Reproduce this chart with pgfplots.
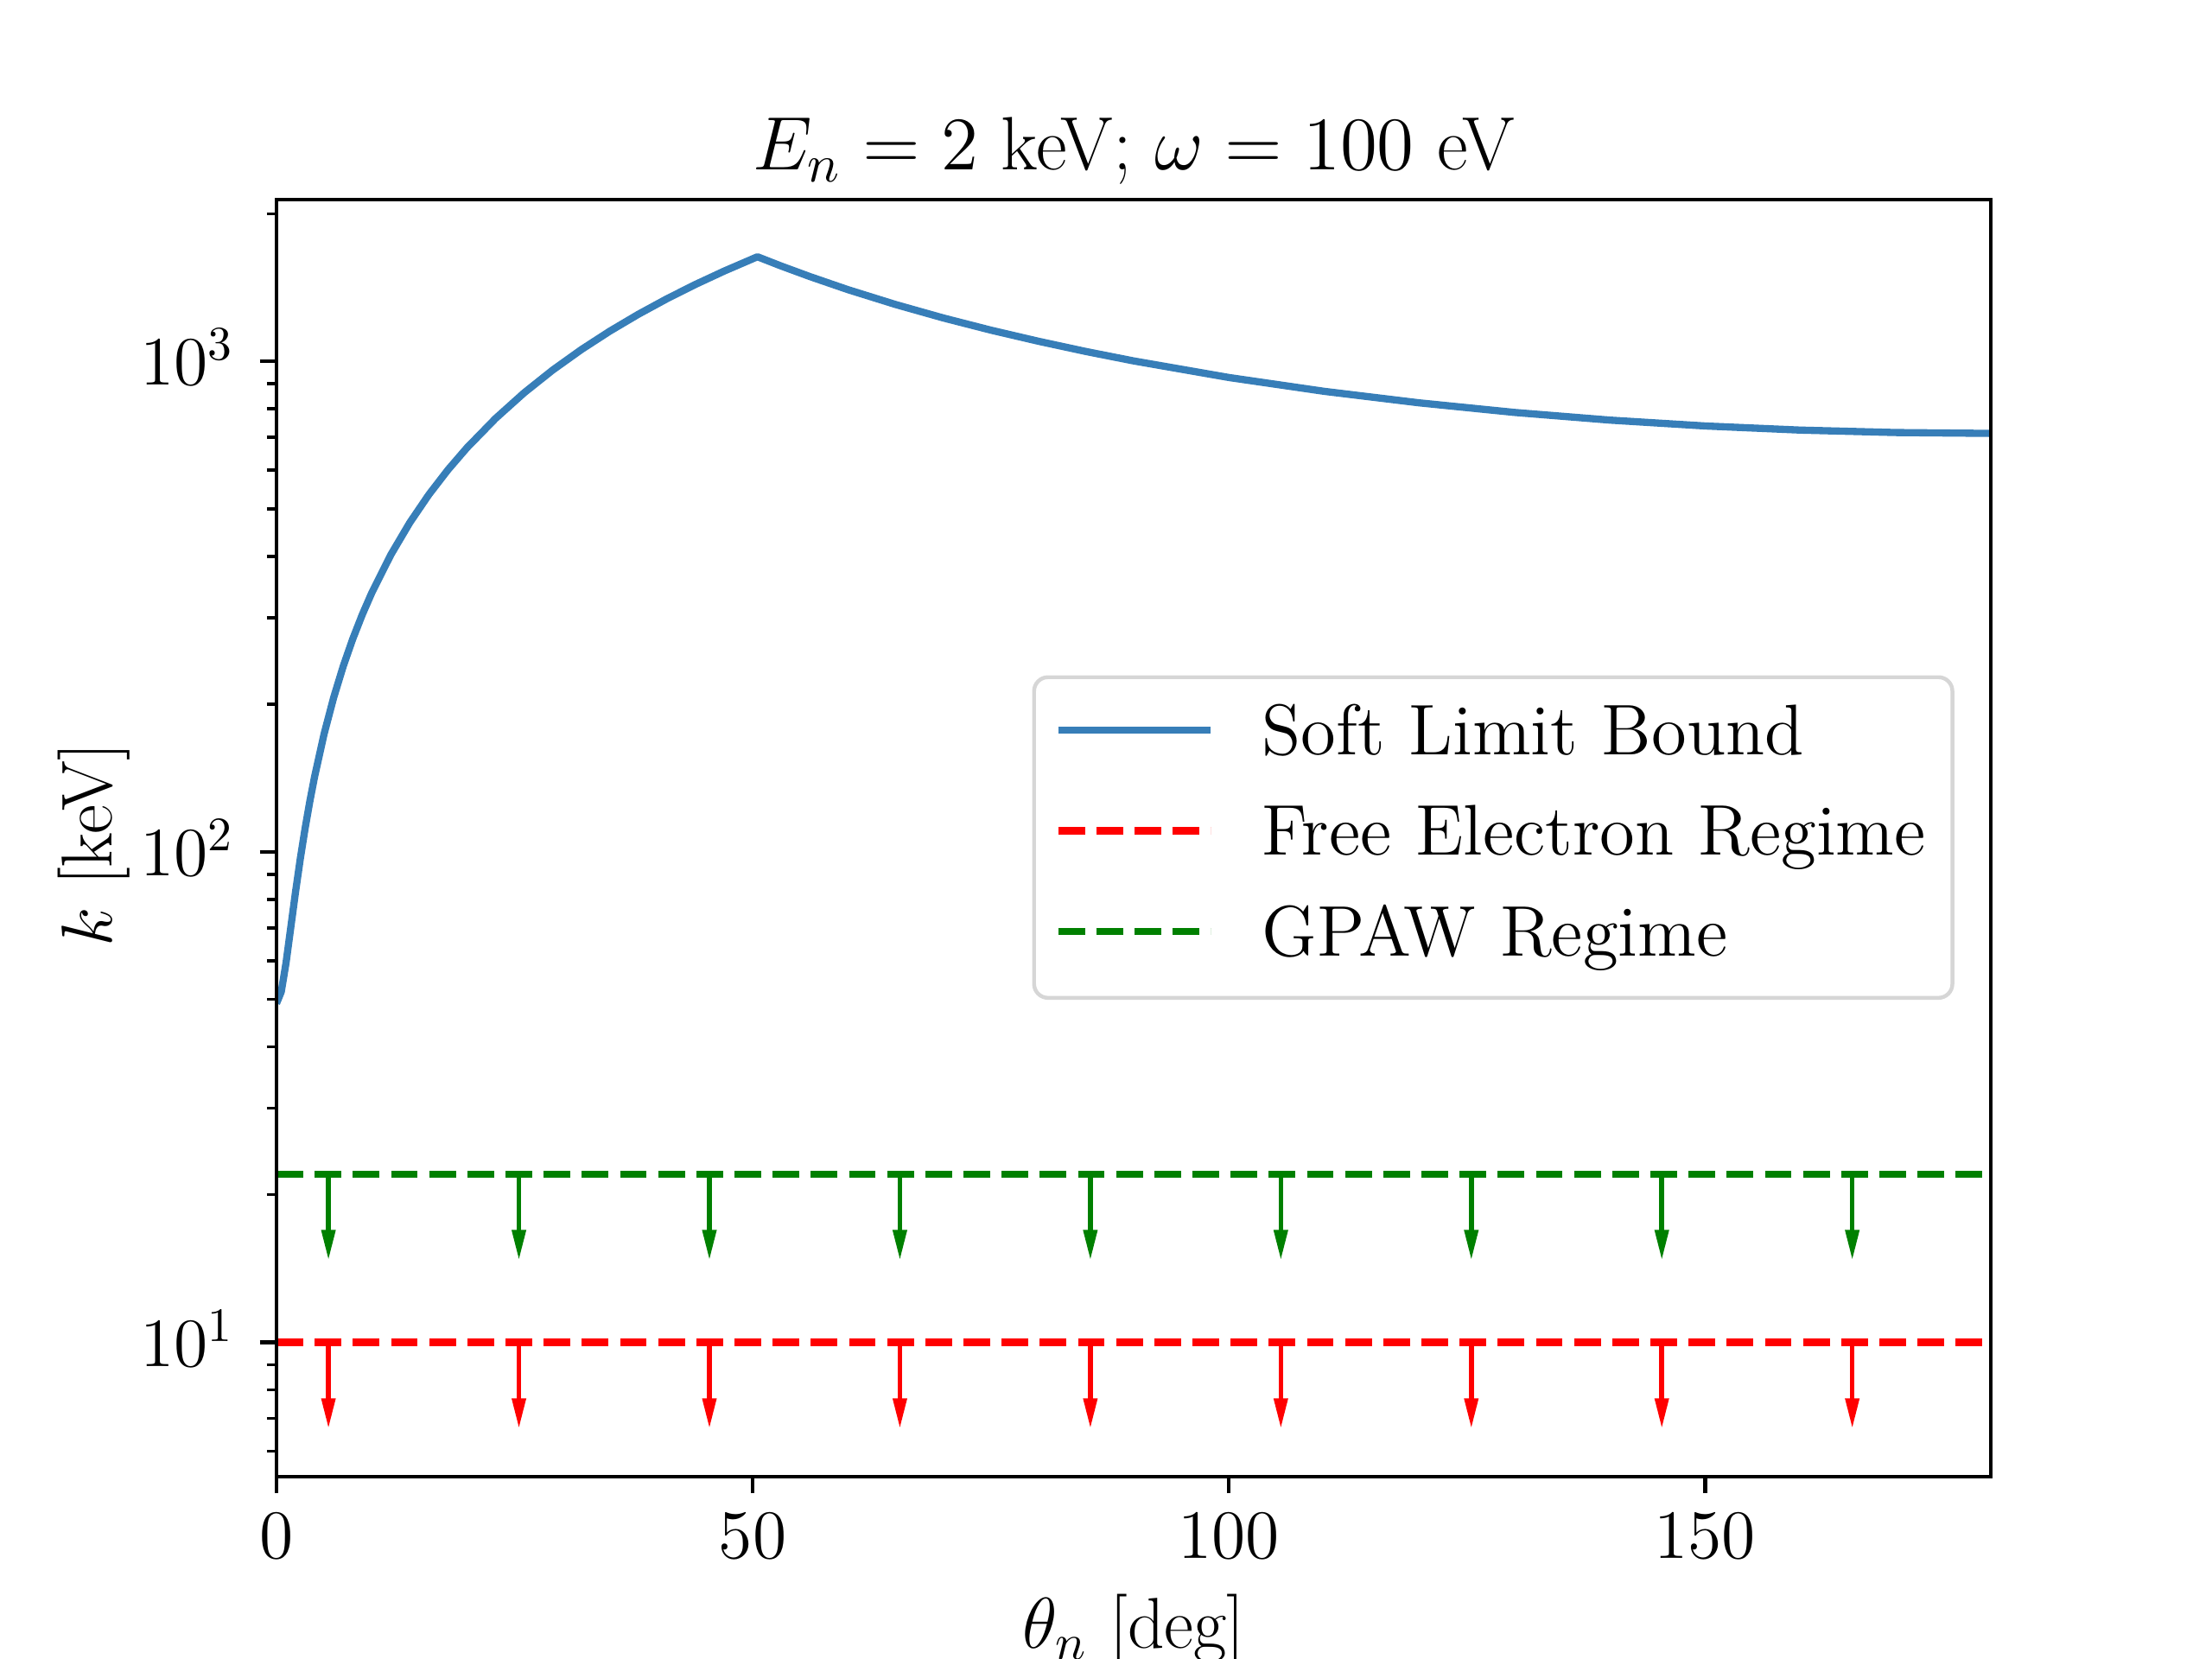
\RequirePackage{fix-cm}
\documentclass[border=0pt]{standalone}
\usepackage{pgfplots}
\pgfplotsset{compat=1.18}
\usetikzlibrary{arrows.meta}
\definecolor{sblue}{HTML}{377EB8}
\definecolor{mgreen}{HTML}{008000}
\definecolor{mred}{HTML}{FF0000}
\definecolor{lgray}{HTML}{D6D6D6}
\begin{document}
\fontsize{14.4}{17.28}\selectfont
\begin{tikzpicture}
\useasboundingbox (0,0) rectangle (460.8pt,345.6pt);
\begin{axis}[
  at={(57.6pt,38.016pt)}, anchor=south west,
  scale only axis, width=357.12pt, height=266.04pt,
  xmin=0, xmax=180, ymode=log, ymin=5.33, ymax=2138,
  xtick={0,50,100,150}, ytick={10,100,1000},
  minor ytick={6,7,8,9,20,30,40,50,60,70,80,90,200,300,400,500,600,700,800,900,2000},
  tick align=outside, tick pos=left,
  major tick length=3.5pt, minor tick length=2pt,
  major tick style={line width=0.8pt, black},
  minor tick style={line width=0.6pt, black},
  axis line style={line width=0.8pt},
  axis on top,
  xticklabel style={anchor=base, inner sep=0pt, yshift=-13.6pt},
  yticklabel style={anchor=base east, inner sep=0pt, xshift=-5.1pt, yshift=-5pt},
  every axis title shift=0pt,
  title={$E_n = 2$ keV; $\omega = 100$ eV},
  title style={at={(axis description cs:0.5,1)}, anchor=base, inner sep=0pt, yshift=6.1pt,
    font=\fontsize{15.75}{19}\selectfont},
  xlabel={$\theta_n$ [deg]},
  xlabel style={at={(axis description cs:0.5,0)}, anchor=base, inner sep=0pt, yshift=-35.8pt,
    font=\fontsize{15}{18}\selectfont},
  ylabel={$k$ [keV]},
  ylabel style={at={([xshift=-34.3pt,yshift=-1.4pt]axis description cs:0,0.5)}, anchor=base, inner sep=0pt, rotate=0,
    font=\fontsize{15}{18}\selectfont},
  legend style={at={(0.4408,0.6274)}, anchor=north west, draw=lgray, line width=0.8pt,
    rounded corners=2.9pt, fill=white, inner xsep=4.3pt, inner ysep=4.7pt,
    row sep=5.6pt, column sep=9.9pt, font=\fontsize{14.95}{18}\selectfont,
    nodes={inner sep=0pt, text height=11.4pt, text depth=4pt, text width=139.5pt, align=left}},
  legend cell align=left,
  legend image code/.code={\draw[#1] (0pt,1.4pt) -- (31.8pt,1.4pt);},
]
\addplot[sblue, line width=1.5pt, line join=round] coordinates {
(0,49.09) (0.5,51.86) (1,59.38) (1.5,70.15) (2,82.90) (2.5,96.87) (3,111.58) (3.5,126.78)
(4,142.32) (5,174.03) (6,206.26) (7,238.79) (8,271.49) (9,304.31) (10,337.21) (12,403.12)
(14,469.07) (16,534.99) (18,600.81) (20,666.51) (23,764.73) (26,862.48) (29,959.67)
(32,1056.24) (35,1152.1) (38,1247.2) (41,1341.4) (44,1434.8) (47,1527.1) (50.5,1633.6)
(53,1563.8) (56,1488.6) (60,1399.8) (65,1305.6) (70,1225.8) (75,1157.6) (80,1098.7)
(85,1047.0) (90,1001.8) (100,926.8) (110,868.6) (120,822.8) (130,786.8) (140,758.9)
(150,738.3) (160,724.1) (170,715.9) (180,712.9)
};
\addlegendentry{Soft Limit Bound}
\addplot[mred, line width=1.5pt, dash pattern=on 5.55pt off 2.4pt] coordinates {(0,10) (180,10)};
\addlegendentry{Free Electron Regime}
\addplot[mgreen, line width=1.5pt, dash pattern=on 5.55pt off 2.4pt] coordinates {(0,22.03) (180,22.03)};
\addlegendentry{GPAW Regime}
\pgfplotsinvokeforeach{5.4545,25.4545,45.4545,65.4545,85.4545,105.4545,125.4545,145.4545,165.4545}{
  \addplot[forget plot, mred, line width=1pt, -{Triangle[length=6.36pt,width=2.76pt]}] coordinates {(#1,10) (#1,6.667)};
  \addplot[forget plot, mgreen, line width=1pt, -{Triangle[length=6.36pt,width=2.76pt]}] coordinates {(#1,22.03) (#1,14.69)};
}
\end{axis}
\end{tikzpicture}
\end{document}
